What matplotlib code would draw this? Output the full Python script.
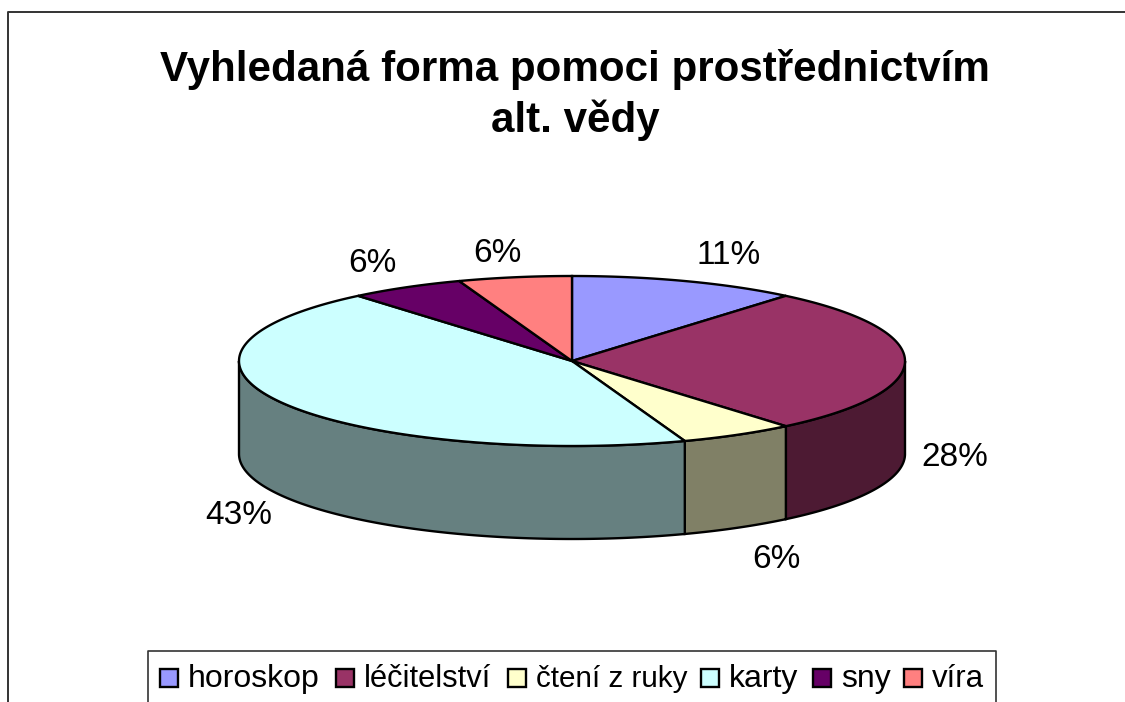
#!/usr/bin/env python3
"""
3D looking pie, drawn by hand because matplotlib has no 3D pie
"""
import numpy as np
import matplotlib
matplotlib.use('Agg')
import matplotlib.pyplot as plt
from matplotlib.patches import Polygon, Rectangle

plt.rcParams['font.family'] = ['Liberation Sans', 'DejaVu Sans']

TITLE = 'Vyhledaná forma pomoci prostřednictvím\nalt. vědy'
categories = ['horoskop', 'léčitelství', 'čtení z ruky', 'karty', 'sny', 'víra']
# slice sizes as read from the slice edges, the printed labels are rounded differently
values = [11.1, 27.8, 5.6, 44.4, 5.6, 5.5]
labels = ['11%', '28%', '6%', '43%', '6%', '6%']
top_colors = ['#9999FF', '#993366', '#FFFFCC', '#CCFFFF', '#660066', '#FF8080']
side_colors = ['#4D4D80', '#4D1A33', '#808066', '#668080', '#330033', '#804040']
label_pos = [(729, 254), (955, 455), (776, 557), (239, 514), (372, 261), (497, 252)]
legend_x = [160, 336, 508, 701, 813, 904]
legend_size = [23, 22.2, 21.3, 23, 23, 22.5]

CX, CY, RX, RY, DEPTH = 572, 361, 333, 85, 93

fig = plt.figure(figsize=(11.25, 7.02), dpi=100)
ax = fig.add_axes([0, 0, 1, 1])
ax.set_xlim(0, 1125)
ax.set_ylim(702, 0)
ax.axis('off')


def rim(a, b, dy=0):
    # points along the ellipse, angles clockwise from the top
    t = np.radians(np.linspace(a, b, 200))
    return np.column_stack([CX + RX * np.sin(t), CY + dy - RY * np.cos(t)])


# chart frame, only left and top edges are inside the picture
ax.plot([8, 8, 1125], [702, 12, 12], color='#333333', lw=1.4, zorder=1)

edges = np.concatenate([[0], np.cumsum(values)]) / sum(values) * 360

# side walls, only the front half of the ellipse shows
for a, b, col in zip(edges[:-1], edges[1:], side_colors):
    a2, b2 = max(a, 90), min(b, 270)
    if a2 >= b2:
        continue
    up = rim(a2, b2)
    down = rim(a2, b2, DEPTH)[::-1]
    ax.add_patch(Polygon(np.vstack([up, down]), closed=True, fc=col, ec='black', lw=1.7, zorder=2))

# top faces
for a, b, col in zip(edges[:-1], edges[1:], top_colors):
    pts = np.vstack([[CX, CY], rim(a, b)])
    ax.add_patch(Polygon(pts, closed=True, fc=col, ec='black', lw=1.7, zorder=3))

for (x, y), txt in zip(label_pos, labels):
    ax.text(x, y + 2, txt, fontsize=24, ha='center', va='center', color='black', zorder=5)

ax.text(575, 95, TITLE, fontsize=30.3, fontweight='bold', ha='center', va='center',
        linespacing=1.27, color='black')

# legend box without bottom edge, it is cut by the picture
ax.plot([148, 148, 996, 996], [702, 651, 651, 702], color='#333333', lw=1.2, zorder=4)
for x, name, col, size in zip(legend_x, categories, top_colors, legend_size):
    ax.add_patch(Rectangle((x, 669), 18, 18, fc=col, ec='black', lw=1.7, zorder=5))
    ax.text(x + 28, 679, name, fontsize=size, ha='left', va='center', color='black', zorder=5)

fig.savefig('out.png', dpi=100)
